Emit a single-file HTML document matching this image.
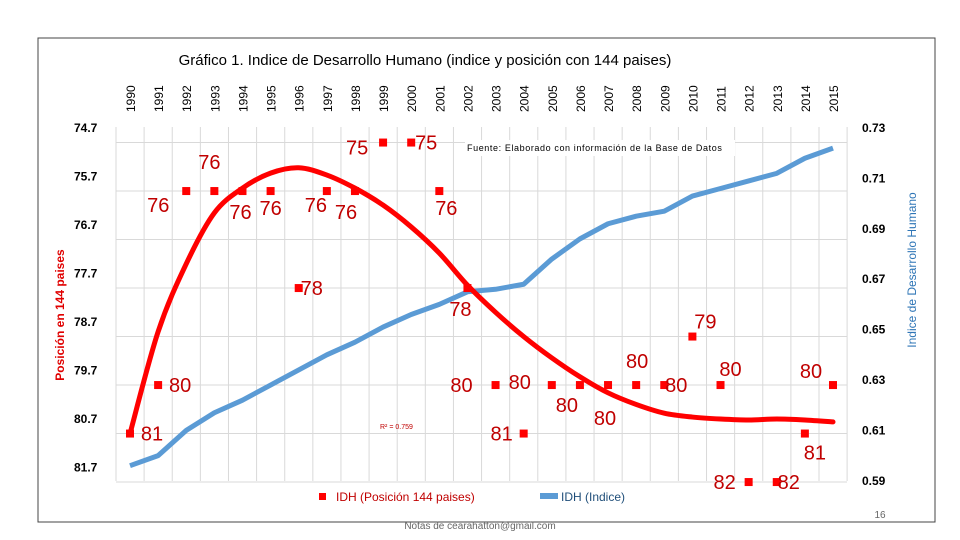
<!DOCTYPE html>
<html><head><meta charset="utf-8"><style>
body{margin:0;background:#fff;}
svg{display:block;font-family:"Liberation Sans",sans-serif;}
</style></head><body>
<svg id="c" width="960" height="540" viewBox="0 0 960 540">
<rect x="38" y="38" width="897" height="484" fill="#fff" stroke="#444" stroke-width="1"/>
<text x="425" y="65" text-anchor="middle" font-size="15" fill="#000">Gráfico 1. Indice de Desarrollo Humano (indice y posición con 144 paises)</text>
<g id="grid"></g><g id="years"></g><g id="laxis"></g><g id="raxis"></g>
<rect x="465" y="140" width="270" height="16" fill="#fff"/>
<text x="467" y="151" font-size="9" letter-spacing="0.6" fill="#000">Fuente: Elaborado con información de la Base de Datos</text>
<g id="series"></g>
<text x="380" y="429" font-size="7" fill="#c00000">R² = 0.759</text>
<text transform="translate(64,315) rotate(-90)" text-anchor="middle" font-size="12" font-weight="bold" fill="#e00000">Posición en 144 paises</text>
<text transform="translate(916,270) rotate(-90)" text-anchor="middle" font-size="12" fill="#2e75b6">Indice de Desarrollo Humano</text>
<g><rect x="319" y="493" width="7" height="7" fill="#ff0000"/><text x="336" y="501" font-size="12" fill="#c00000">IDH (Posición 144 paises)</text></g>
<g><rect x="540" y="493" width="18" height="6" fill="#5b9bd5"/><text x="561" y="501" font-size="12" fill="#1f4e79">IDH (Indice)</text></g>
<text x="480" y="529" text-anchor="middle" font-size="10" fill="#666">Notas de cearahatton@gmail.com</text>
<text x="880" y="518" text-anchor="middle" font-size="10" fill="#666">16</text>
</svg>
<script>
const years=[1990,1991,1992,1993,1994,1995,1996,1997,1998,1999,2000,2001,2002,2003,2004,2005,2006,2007,2008,2009,2010,2011,2012,2013,2014,2015];
const position=[81,80,76,76,76,76,78,76,76,75,75,76,78,80,81,80,80,80,80,80,79,80,82,82,81,80];
const idh=[0.596,0.600,0.610,0.617,0.622,0.628,0.634,0.640,0.645,0.651,0.656,0.660,0.665,0.666,0.668,0.678,0.686,0.692,0.695,0.697,0.703,0.706,0.709,0.712,0.718,0.722];
const trend=[81.0,78.9,77.5,76.45,75.94,75.63,75.52,75.67,75.94,76.29,76.74,77.28,77.94,78.5,79.0,79.44,79.83,80.16,80.4,80.58,80.66,80.7,80.72,80.7,80.72,80.76];
const leftTicks=[74.7,75.7,76.7,77.7,78.7,79.7,80.7,81.7];
const rightTicks=[0.73,0.71,0.69,0.67,0.65,0.63,0.61,0.59];
const labelDX=[22,22,-28,-5,-2,0,13,-11,-9,-26,15,7,-7,-34,-22,-32,-13,-3,1,12,13,10,-24,12,10,-22];
const labelDY=[0,0,14,-29,21,17,0,14,21,5,0,17,21,0,0,-3,20,33,-24,0,-15,-16,0,0,19,-14];
const NS='http://www.w3.org/2000/svg';
const x=i=>130+i*28.12;
const yL=v=>128+(v-74.7)*48.5;
const yR=v=>128+(0.73-v)*2520;
function mk(t,a,p){const e=document.createElementNS(NS,t);for(const k in a)e.setAttribute(k,a[k]);p.appendChild(e);return e;}
const grid=document.getElementById('grid');
for(let k=0;k<=26;k++){const l=mk('line',{x1:116+k*28.12,x2:116+k*28.12,y1:127,y2:481,stroke:'#d9d9d9'},grid);

}
for(let v=75;v<=82;v++){const l=mk('line',{x1:116,x2:847,y1:yL(v),y2:yL(v),stroke:'#d9d9d9'},grid);

}
const yg=document.getElementById('years');
years.forEach((yr,i)=>{const t=mk('text',{transform:`translate(${x(i)+5},112) rotate(-90)`,'font-size':'12',fill:'#000'},yg);t.textContent=yr;

});
const la=document.getElementById('laxis');
leftTicks.forEach(v=>{const t=mk('text',{x:74,y:yL(v)+4,'font-size':'12','font-weight':'bold',fill:'#000'},la);t.textContent=v.toFixed(1);

});
const ra=document.getElementById('raxis');
rightTicks.forEach(v=>{const t=mk('text',{x:862,y:yR(v)+4,'font-size':'12','font-weight':'bold',fill:'#000'},ra);t.textContent=v.toFixed(2);

});
const s=document.getElementById('series');
const ip=mk('polyline',{points:idh.map((v,i)=>x(i)+','+yR(v)).join(' '),fill:'none',stroke:'#5b9bd5','stroke-width':5,'stroke-linejoin':'round'},s);


let d='M'+x(0)+','+yL(trend[0]);
for(let i=0;i<trend.length-1;i++){const x0=x(i),x1=x(i+1),y0=yL(trend[i]),y1=yL(trend[i+1]);
const ym1=i>0?yL(trend[i-1]):y0,y2=i<trend.length-2?yL(trend[i+2]):y1;
d+=` C${x0+(x1-(i>0?x(i-1):x0))/6},${y0+(y1-ym1)/6} ${x1-((i<trend.length-2?x(i+2):x1)-x0)/6},${y1-(y2-y0)/6} ${x1},${y1}`;}
const tp=mk('path',{d:d,fill:'none',stroke:'#ff0000','stroke-width':5,'stroke-linecap':'round'},s);


position.forEach((v,i)=>{const r=mk('rect',{x:x(i)-4,y:yL(v)-4,width:8,height:8,fill:'#ff0000'},s);


const t=mk('text',{x:x(i)+labelDX[i],y:yL(v)+labelDY[i]+7,'text-anchor':'middle','font-size':'20',fill:'#c00000'},s);t.textContent=v;

});
</script>
</body></html>
